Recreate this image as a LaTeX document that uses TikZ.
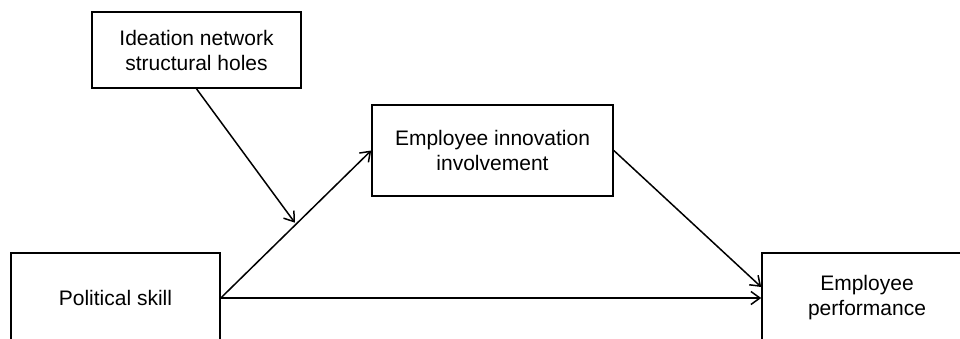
\documentclass[tikz,border=0pt]{standalone}
\usepackage{fontspec}
\setmainfont{Liberation Sans}
\usetikzlibrary{arrows.meta}
\begin{document}
\begin{tikzpicture}[x=1pt,y=-1pt,
  box/.style={draw=black, line width=1.6pt, rectangle, align=center, inner sep=0pt,
    font=\fontsize{21}{25}\selectfont},
  conn/.style={line width=1.5pt, -{Straight Barb[length=9pt,width=13pt,line width=1.5pt]}}]
\useasboundingbox (0,0) rectangle (960,339);
\node[box, minimum width=209pt, minimum height=76pt] (ins) at (196.5,50) {Ideation network\\structural holes};
\node[box, minimum width=241pt, minimum height=91pt] (eii) at (492.5,150.5) {Employee innovation\\involvement};
\node[box, minimum width=209pt, minimum height=90pt] (ps) at (115.5,298) {Political skill};
\node[box, minimum width=210pt, minimum height=90pt] (ep) at (867,298) {Employee\\performance};
\draw[conn] (ps.east) -- (ep.west);
\draw[conn] (ps.east) -- (eii.west);
\draw[conn] (eii.east) -- ([yshift=11pt]ep.west);
\path (ps.east) -- (eii.west) coordinate[pos=0.5] (m);
\draw[conn, shorten >=2pt] (ins.south) -- (m);
\end{tikzpicture}
\end{document}
